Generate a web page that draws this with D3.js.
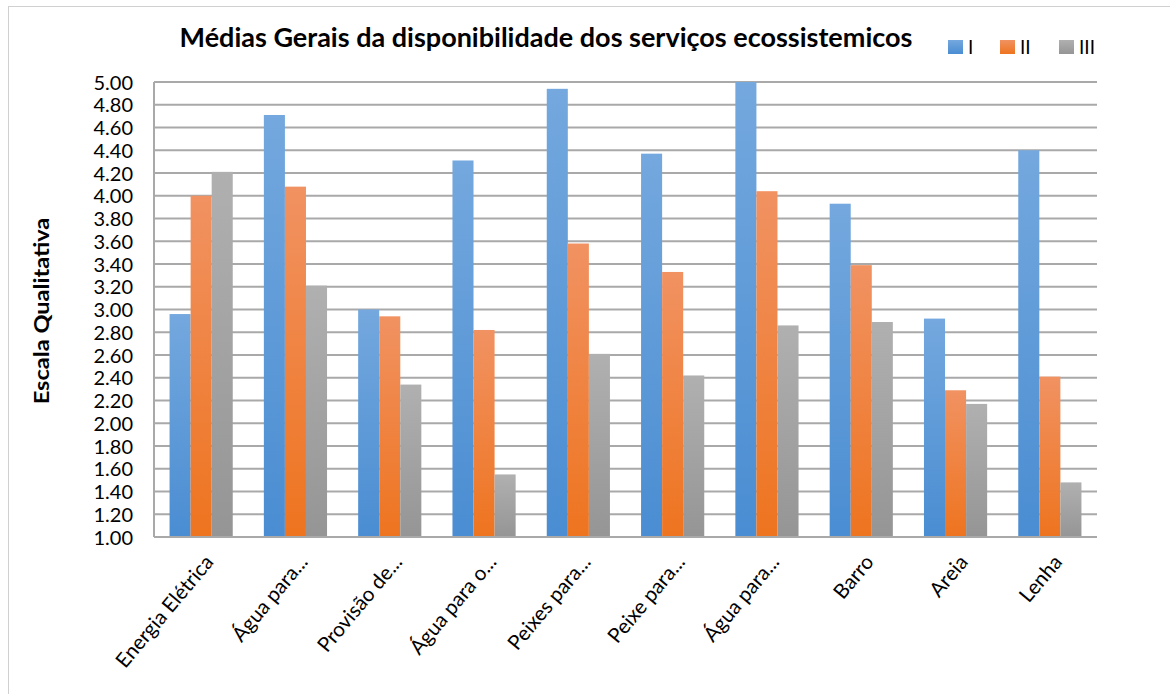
<!DOCTYPE html>
<html lang="pt">
<head>
<meta charset="UTF-8"/>
<title>Médias Gerais da disponibilidade dos serviços ecossistemicos</title>
<script src="https://d3js.org/d3.v7.min.js"></script>
<style>
  body { margin: 0; background: #fff; }
  text { font-family: Lato, "Open Sans", sans-serif; fill: #000; }
</style>
</head>
<body>
<div id="chart"></div>
<script>
// data
var categories = ["Energia Elétrica", "Água para...", "Provisão de...", "Água para o...",
                  "Peixes para...", "Peixe para...", "Água para...", "Barro", "Areia", "Lenha"];
var seriesNames = ["I", "II", "III"];
var valuesI   = [2.96, 4.71, 3.00, 4.31, 4.94, 4.37, 5.00, 3.93, 2.92, 4.40];
var valuesII  = [4.00, 4.08, 2.94, 2.82, 3.58, 3.33, 4.04, 3.39, 2.29, 2.41];
var valuesIII = [4.21, 3.21, 2.34, 1.55, 2.61, 2.42, 2.86, 2.89, 2.17, 1.48];
var yTicks = [1.0, 1.2, 1.4, 1.6, 1.8, 2.0, 2.2, 2.4, 2.6, 2.8, 3.0, 3.2, 3.4, 3.6, 3.8, 4.0, 4.2, 4.4, 4.6, 4.8, 5.0];

var allSeries = [valuesI, valuesII, valuesIII];
var colors = [
  {top: "#74a8de", bottom: "#4a8dd2"},
  {top: "#f19262", bottom: "#ee741f"},
  {top: "#b0b0b0", bottom: "#959595"}
];

var w = 1170, h = 694;
var plotLeft = 154, plotRight = 1097, plotTop = 82, plotBottom = 537;

var svg = d3.select("#chart").append("svg")
  .attr("width", w).attr("height", h);

// outer frame
svg.append("rect")
  .attr("x", 8.5).attr("y", 6.5)
  .attr("width", w).attr("height", h)
  .attr("fill", "none").attr("stroke", "#d0d0d0");

var defs = svg.append("defs");
colors.forEach(function(c, i) {
  var g = defs.append("linearGradient")
    .attr("id", "grad" + i)
    .attr("x1", 0).attr("y1", 0).attr("x2", 0).attr("y2", 1);
  g.append("stop").attr("offset", "0%").attr("stop-color", c.top);
  g.append("stop").attr("offset", "100%").attr("stop-color", c.bottom);
});

var x0 = d3.scaleBand()
  .domain(d3.range(categories.length))
  .range([plotLeft, plotRight])
  .paddingInner(0.33)
  .paddingOuter(0.165);

var x1 = d3.scaleBand()
  .domain(d3.range(seriesNames.length))
  .range([0, x0.bandwidth()]);

var y = d3.scaleLinear().domain([1, 5]).range([plotBottom, plotTop]);

// gridlines
svg.append("g")
  .selectAll("line")
  .data(yTicks.slice(1))
  .enter().append("line")
  .attr("x1", plotLeft).attr("x2", plotRight)
  .attr("y1", function(d) { return y(d); })
  .attr("y2", function(d) { return y(d); })
  .attr("stroke", "#a9a9a9")
  .attr("stroke-width", 2);

// y axis
var yAxis = d3.axisLeft(y)
  .tickValues(yTicks)
  .tickFormat(d3.format(".2f"))
  .tickSize(0)
  .tickPadding(21);

var yg = svg.append("g")
  .attr("transform", "translate(" + plotLeft + ",0)")
  .call(yAxis);
yg.select(".domain").remove();
yg.selectAll("text")
  .style("font-family", "Lato, sans-serif")
  .style("font-size", "20px")
  .attr("dy", "0.35em");

// bars
var groups = svg.append("g").selectAll("g")
  .data(categories)
  .enter().append("g")
  .attr("transform", function(d, i) { return "translate(" + x0(i) + ",0)"; });

groups.selectAll("rect")
  .data(function(d, i) { return allSeries.map(function(s, k) { return {k: k, v: s[i]}; }); })
  .enter().append("rect")
  .attr("x", function(d) { return x1(d.k); })
  .attr("width", x1.bandwidth())
  .attr("y", function(d) { return y(d.v); })
  .attr("height", function(d) { return y(1) - y(d.v); })
  .attr("fill", function(d) { return "url(#grad" + d.k + ")"; });

// axis lines
svg.append("line")
  .attr("x1", plotLeft).attr("x2", plotLeft)
  .attr("y1", plotTop).attr("y2", plotBottom)
  .attr("stroke", "#a9a9a9").attr("stroke-width", 2);
svg.append("line")
  .attr("x1", plotLeft).attr("x2", plotRight)
  .attr("y1", plotBottom).attr("y2", plotBottom)
  .attr("stroke", "#a9a9a9").attr("stroke-width", 2);

// x labels
var xb = d3.scaleBand().domain(d3.range(categories.length)).range([plotLeft, plotRight]);
svg.append("g").selectAll("text")
  .data(categories)
  .enter().append("text")
  .attr("transform", function(d, i) {
    return "translate(" + (xb(i) + xb.bandwidth() / 2 + 8) + "," + (plotBottom + 21) + ") rotate(-50)";
  })
  .attr("text-anchor", "end")
  .attr("dy", "0.35em")
  .style("font-size", "20.5px")
  .text(function(d) { return d; });

// title
svg.append("text")
  .attr("x", 546).attr("y", 47)
  .attr("text-anchor", "middle")
  .style("font-size", "27px")
  .style("font-weight", "bold")
  .text("Médias Gerais da disponibilidade dos serviços ecossistemicos");

// y title
svg.append("text")
  .attr("transform", "translate(49,311) scale(1,1.18) rotate(-90)")
  .attr("text-anchor", "middle")
  .style("font-size", "20px")
  .style("font-weight", "bold")
  .text("Escala Qualitativa");

// legend
var legendX = [948, 1000, 1059];
var legend = svg.append("g").selectAll("g")
  .data(seriesNames)
  .enter().append("g")
  .attr("transform", function(d, i) { return "translate(" + legendX[i] + ",40)"; });
legend.append("rect")
  .attr("width", 15).attr("height", 14)
  .attr("fill", function(d, i) { return "url(#grad" + i + ")"; });
legend.append("text")
  .attr("x", 20).attr("y", 7)
  .attr("dy", "0.35em")
  .style("font-size", "19px")
  .text(function(d) { return d; });
</script>
</body>
</html>
